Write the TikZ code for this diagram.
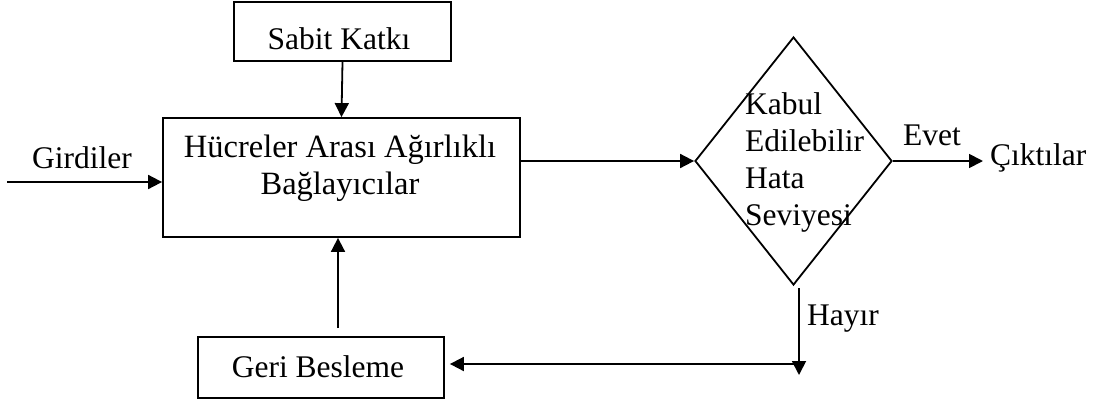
\documentclass[tikz,border=0pt]{standalone}
\usepackage{fontspec}
\setmainfont{Liberation Serif}
\usetikzlibrary{arrows.meta,shapes.geometric}
\tikzset{
  box/.style={draw, line width=1.8pt, rectangle, inner sep=0pt},
  dbox/.style={draw, line width=1.8pt, diamond, inner sep=0pt},
  txt/.style={inner sep=0pt, font=\fontsize{31.5}{37}\selectfont},
  bigtxt/.style={inner sep=0pt, font=\fontsize{32.5}{38}\selectfont},
  conn/.style={line width=1.8pt, -{Triangle[length=14pt,width=14pt]}},
  plain/.style={line width=1.8pt}
}
\begin{document}
\begin{tikzpicture}[x=1pt,y=-1pt]
\useasboundingbox (0,0) rectangle (1106,405);
% boxes
\node[box, minimum width=217pt, minimum height=59pt] (sabit) at (342.5,31.5) {};
\node[txt, anchor=base] (sabitT) at (339,49) {Sabit Katkı};
\node[box, minimum width=357pt, minimum height=119pt] (main) at (341.5,177.5) {};
\node[bigtxt, anchor=base] (mainA) at (340,157) {Hücreler Arası Ağırlıklı};
\node[bigtxt, anchor=base] (mainB) at (340,194) {Bağlayıcılar};
\node[dbox, minimum width=197pt, minimum height=248pt] (dia) at (793.5,161) {};
\node[txt, anchor=base west] (d1) at (745,114) {Kabul};
\node[txt, anchor=base west] (d2) at (745,151) {Edilebilir};
\node[txt, anchor=base west] (d3) at (745,188) {Hata};
\node[txt, anchor=base west] (d4) at (745,225) {Seviyesi};
\node[box, minimum width=246pt, minimum height=61pt] (geri) at (321,367.5) {};
\node[txt, anchor=base] (geriT) at (318,377) {Geri Besleme};
% labels
\node[txt, anchor=base west] (girdi) at (32,168) {Girdiler};
\node[txt, anchor=base west] (evet) at (903,145) {Evet};
\node[txt, anchor=base west] (cikti) at (990,165) {Çıktılar};
\node[txt, anchor=base west] (hayir) at (807,325) {Hayır};
% coordinates
\coordinate (inS) at (7,182);
\coordinate (outE) at (983,161);
\coordinate (fb) at (338,328);
\coordinate (h1) at (799,288);
\coordinate (h2) at (799,375);
\coordinate (h3) at (799,364);
% connectors
\draw[conn] (inS) -- (main.west |- inS);
\draw[conn] (sabit.south) -- (main.north);
\draw[conn] (fb) -- (fb |- main.south);
\draw[conn] (main.east |- dia.west) -- (dia.west);
\draw[conn] (dia.east) -- (outE);
\draw[conn] (h1) -- (h2);
\draw[conn, shorten >=5pt] (h3) -- (geri.east |- h3);
\end{tikzpicture}
\end{document}
